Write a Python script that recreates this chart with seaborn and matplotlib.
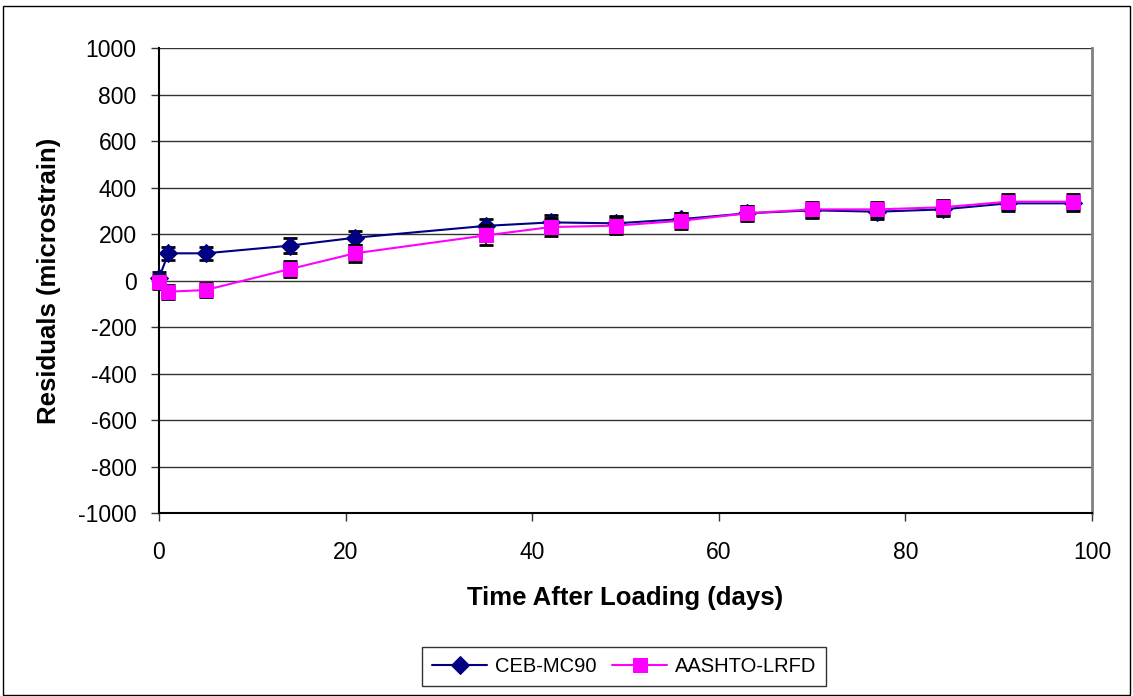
import matplotlib
matplotlib.use("Agg")
import matplotlib.pyplot as plt
import seaborn as sns
import pandas as pd
from matplotlib.patches import Rectangle

days = [0, 1, 5, 14, 21, 35, 42, 49, 56, 63, 70, 77, 84, 91, 98]
ceb = [10, 117, 117, 150, 184, 235, 250, 246, 264, 289, 302, 296, 306, 332, 332]
ceb_err = [25, 27, 27, 31, 30, 29, 30, 30, 28, 30, 32, 32, 30, 32, 32]
aashto = [-5, -48, -41, 49, 117, 194, 230, 236, 257, 289, 306, 306, 315, 339, 339]
aashto_err = [30, 30, 30, 34, 36, 43, 38, 38, 35, 33, 33, 33, 32, 33, 33]
series_names = ["CEB-MC90", "AASHTO-LRFD"]
xticks = [0, 20, 40, 60, 80, 100]
yticks = list(range(-1000, 1001, 200))
ytick_labels = [str(v) for v in yticks]

df = pd.DataFrame({
    "days": days * 2,
    "res": ceb + aashto,
    "model": [series_names[0]] * len(days) + [series_names[1]] * len(days),
})

sns.set_theme(style="white")
plt.rcParams["font.family"] = ["Liberation Sans", "DejaVu Sans"]
plt.rcParams["axes.unicode_minus"] = False
plt.rcParams["text.color"] = "black"
plt.rcParams["axes.labelcolor"] = "black"
plt.rcParams["xtick.color"] = "black"
plt.rcParams["ytick.color"] = "black"

fig = plt.figure(figsize=(11.33, 6.96), dpi=100)
ax = fig.add_axes([0.1403, 0.2629, 0.8235, 0.6681])

colors = {"CEB-MC90": "#000080", "AASHTO-LRFD": "#FF00FF"}
markers = {"CEB-MC90": "D", "AASHTO-LRFD": "s"}

for i, (name, vals, errs) in enumerate([(series_names[0], ceb, ceb_err), (series_names[1], aashto, aashto_err)]):
    sub = df[df["model"] == name]
    ax.errorbar(days, vals, yerr=errs, fmt="none", ecolor="black", elinewidth=1.2,
                capsize=5, capthick=2, zorder=3 + 2 * i, clip_on=False)
    sns.lineplot(data=sub, x="days", y="res", ax=ax, color=colors[name],
                 marker=markers[name], markersize=9 if name == "CEB-MC90" else 10,
                 markeredgecolor=colors[name], linewidth=1.5, label=name,
                 zorder=4 + 2 * i, clip_on=False)

ax.set_xlim(0, 100)
ax.set_ylim(-1000, 1000)
ax.set_xticks(xticks)
ax.set_yticks(yticks)
ax.set_yticklabels(ytick_labels)
ax.tick_params(axis="both", which="both", labelsize=16.5, direction="out",
               length=6, width=1, color="#333333", left=True, bottom=True)
ax.tick_params(axis="x", pad=14)
ax.tick_params(axis="y", pad=10)
ax.yaxis.grid(True, color="#333333", linewidth=1)
ax.xaxis.grid(False)
ax.set_axisbelow(True)
for s in ["left", "bottom"]:
    ax.spines[s].set_color("black")
    ax.spines[s].set_linewidth(1.5)
ax.spines["right"].set_color("#808080")
ax.spines["right"].set_linewidth(2)
ax.spines["top"].set_visible(False)

ax.set_xlabel("Time After Loading (days)", fontsize=18.5, fontweight="bold", labelpad=16)
ax.set_ylabel("Residuals (microstrain)", fontsize=18.5, fontweight="bold", labelpad=12)

leg = ax.legend(loc="center", bbox_to_anchor=(0.551, 0.043), bbox_transform=fig.transFigure,
                ncol=2, frameon=True, fancybox=False, fontsize=14.5, handlelength=2.7,
                columnspacing=0.8, handletextpad=0.4, borderpad=0.5)
leg.get_frame().set_edgecolor("black")
leg.get_frame().set_linewidth(1)

fig.patches.append(Rectangle((0.003, 0.002), 0.994, 0.99, transform=fig.transFigure,
                             fill=False, edgecolor="black", linewidth=1))

fig.savefig("out.png", dpi=100)
